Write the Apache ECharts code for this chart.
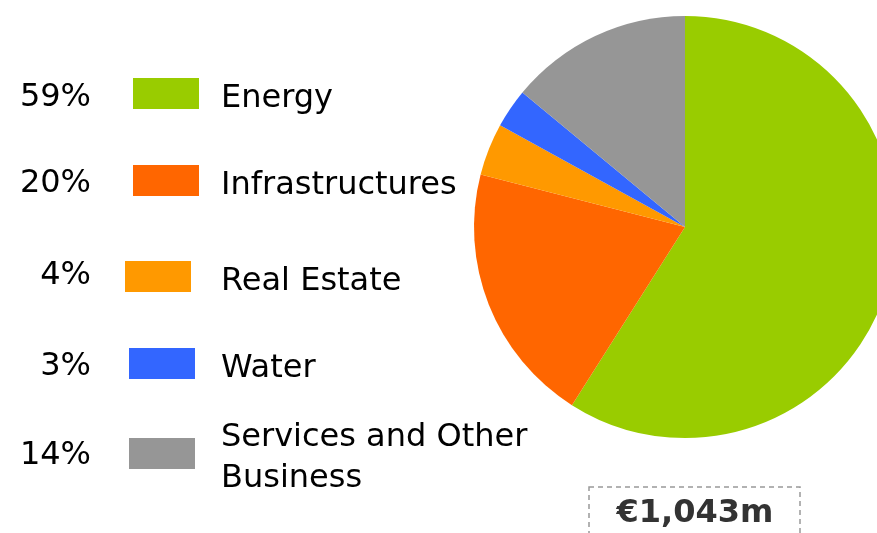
<!DOCTYPE html>
<html>
<head>
<meta charset="utf-8">
<script src="https://cdn.jsdelivr.net/npm/echarts@6/dist/echarts.min.js"></script>
<style>
  html, body { margin: 0; padding: 0; background: #fff; }
  #chart { width: 877px; height: 533px; }
</style>
</head>
<body>
<div id="chart"></div>
<script>
// 数据
const sectors = ['Energy', 'Infrastructures', 'Real Estate', 'Water', 'Services and Other\nBusiness'];
const shares = [59, 20, 4, 3, 14];
const colors = ['#99CC00', '#FF6600', '#FF9900', '#3366FF', '#969696'];
const totalLabel = '€1,043m';

// 图例位置（每行一个）
const rowIconLeft = [133, 133, 125, 129, 129];
const rowIconCenter = [93, 180, 276, 363, 458];
const rowTextCenter = [98, 184, 276, 367, 456];

const font = 'DejaVu Sans';
const padTop = 10;

const legends = sectors.map((name, i) => {
    const lines = name.split('\n').length;
    const lh = lines > 1 ? 41 : 31;
    return {
        data: [name],
        left: rowIconLeft[i],
        top: rowIconCenter[i] - (padTop + lh * lines) / 2,
        padding: 0,
        orient: 'vertical',
        icon: 'rect',
        itemWidth: 66,
        itemHeight: 31,
        selectedMode: false,
        formatter: n => n.split('\n').map(s => '{t|' + s + '}').join('\n'),
        textStyle: {
            rich: {
                t: {
                    fontFamily: font,
                    fontSize: 32,
                    color: '#000',
                    lineHeight: lh,
                    padding: [padTop, 0, 0, 221 - rowIconLeft[i] - 66 - 5]
                }
            }
        }
    };
});

const pctTexts = shares.map((v, i) => ({
    type: 'text',
    x: 91,
    y: rowTextCenter[i],
    style: {
        text: v + '%',
        fontFamily: font,
        fontSize: 32,
        fill: '#000',
        textAlign: 'right',
        textVerticalAlign: 'middle'
    }
}));

const chart = echarts.init(document.getElementById('chart'));
chart.setOption({
    animation: false,
    legend: legends,
    graphic: pctTexts.concat([
        {
            type: 'rect',
            shape: { x: 589, y: 487, width: 211, height: 70 },
            style: { fill: 'none', stroke: '#999', lineWidth: 1.5, lineDash: [5, 4] }
        },
        {
            type: 'text',
            x: 695,
            y: 514,
            style: {
                text: totalLabel,
                fontFamily: font,
                fontSize: 32,
                fontWeight: 'bold',
                fill: '#333',
                textAlign: 'center',
                textVerticalAlign: 'middle'
            }
        }
    ]),
    series: [{
        type: 'pie',
        center: [685, 227],
        radius: 211,
        startAngle: 90,
        clockwise: true,
        label: { show: false },
        labelLine: { show: false },
        emphasis: { disabled: true },
        data: sectors.map((name, i) => ({
            name: name,
            value: shares[i],
            itemStyle: { color: colors[i] }
        }))
    }]
});
</script>
</body>
</html>
